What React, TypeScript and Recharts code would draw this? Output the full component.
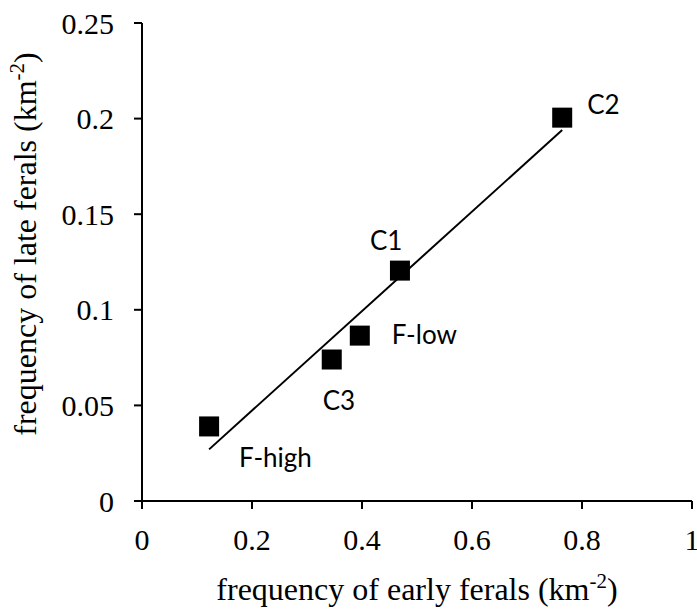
import { ScatterChart, Scatter, XAxis, YAxis } from 'recharts';

const siteNames = ['F-high', 'C3', 'F-low', 'C1', 'C2'];
const earlyFerals = [0.122, 0.345, 0.396, 0.469, 0.764];
const lateFerals = [0.039, 0.074, 0.0865, 0.1205, 0.2005];

// linear trendline, end points
const trendEarly = [0.122, 0.764];
const trendLate = [0.027, 0.194];

const xTicks = [0, 0.2, 0.4, 0.6, 0.8, 1];
const yTicks = [0, 0.05, 0.1, 0.15, 0.2, 0.25];

// where each site label sits relative to its marker (px)
const LABEL_OFFSET: Record<string, [number, number]> = {
  'F-high': [30, 41],
  C3: [-9, 50],
  'F-low': [32, 8],
  C1: [-30, -21],
  C2: [25, -4],
};

const SERIF = '"Liberation Serif", "Times New Roman", serif';
const SANS = 'Lato, "Open Sans", sans-serif';

const sites = siteNames.map((name, i) => ({ name, x: earlyFerals[i], y: lateFerals[i] }));
const trend = trendEarly.map((x, i) => ({ x, y: trendLate[i] }));

const SiteMarker = (props: any) => {
  const { cx, cy, payload } = props;
  const [dx, dy] = LABEL_OFFSET[payload.name] ?? [0, 0];
  return (
    <g>
      <rect x={cx - 10} y={cy - 10} width={20} height={20} fill="#000" />
      <text x={cx + dx} y={cy + dy} fontFamily={SANS} fontSize={26} fill="#000">
        {payload.name}
      </text>
    </g>
  );
};

const XTitle = (props: any) => {
  const { viewBox } = props;
  return (
    <text
      x={viewBox.x + viewBox.width / 2}
      y={viewBox.y + 99}
      textAnchor="middle"
      fontFamily={SERIF}
      fontSize={32}
      fill="#000"
    >
      frequency of early ferals (km
      <tspan dy={-12} fontSize={21}>-2</tspan>
      <tspan dy={12}>)</tspan>
    </text>
  );
};

const YTitle = (props: any) => {
  const { viewBox } = props;
  const x = viewBox.x + 36;
  const y = viewBox.y + viewBox.height / 2 - 18;
  return (
    <text
      x={x}
      y={y}
      transform={`rotate(-90, ${x}, ${y})`}
      textAnchor="middle"
      fontFamily={SERIF}
      fontSize={32}
      fill="#000"
    >
      frequency of late ferals (km
      <tspan dy={-12} fontSize={21}>-2</tspan>
      <tspan dy={12}>)</tspan>
    </text>
  );
};

const axisStyle = { stroke: '#000', strokeWidth: 2 };
const tickStyle = { fontFamily: SERIF, fontSize: 30, fill: '#000' };

export default function App() {
  return (
    <div style={{ position: 'absolute', left: 0, top: 0, background: '#fff' }}>
      <ScatterChart width={697} height={610} margin={{ top: 23, right: 5, bottom: 0, left: 0 }}>
        <XAxis
          type="number"
          dataKey="x"
          domain={[0, 1]}
          ticks={xTicks}
          interval={0}
          height={109}
          tickSize={8}
          tickMargin={20}
          axisLine={axisStyle}
          tickLine={axisStyle}
          tick={tickStyle}
          label={<XTitle />}
        />
        <YAxis
          type="number"
          dataKey="y"
          domain={[0, 0.25]}
          ticks={yTicks}
          interval={0}
          width={142}
          tickSize={8}
          tickMargin={20}
          axisLine={axisStyle}
          tickLine={axisStyle}
          tick={tickStyle}
          label={<YTitle />}
        />
        <Scatter
          data={trend}
          line={{ stroke: '#000', strokeWidth: 2 }}
          shape={() => <g />}
          isAnimationActive={false}
        />
        <Scatter data={sites} shape={<SiteMarker />} isAnimationActive={false} />
      </ScatterChart>
    </div>
  );
}
